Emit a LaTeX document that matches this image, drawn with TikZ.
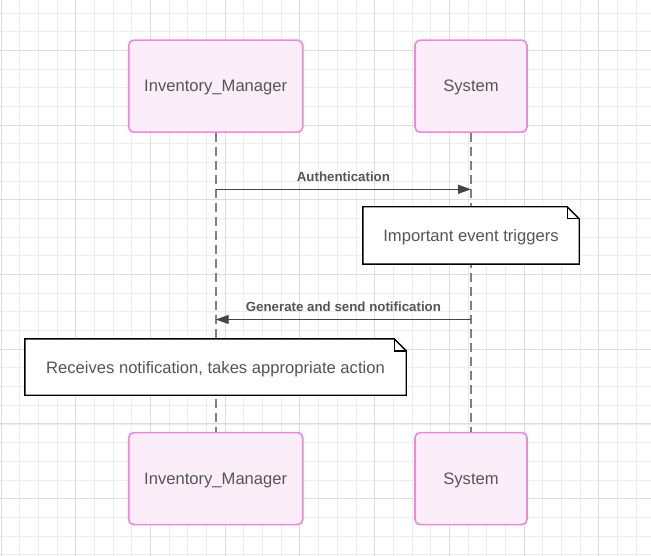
\documentclass[tikz,border=0pt]{standalone}
\usepackage{fontspec}
\setmainfont{Liberation Sans}
\usetikzlibrary{arrows.meta}
\definecolor{gridminor}{HTML}{EDEDED}
\definecolor{gridmajor}{HTML}{DCDCDC}
\definecolor{actorfill}{HTML}{FCEEF9}
\definecolor{actorline}{HTML}{EE88DD}
\definecolor{txtgray}{HTML}{555555}
\definecolor{lifegray}{HTML}{808080}
\definecolor{msggray}{HTML}{444444}
\tikzset{
  actor/.style={rectangle, rounded corners=5pt, draw=actorline, line width=1.6pt, fill=actorfill,
    text=txtgray, font=\fontsize{16.6}{20}\selectfont, minimum height=92pt, inner sep=0pt, text depth=0pt},
  lifeline/.style={draw=lifegray, line width=1.6pt, dash pattern=on 9pt off 5pt},
  notebox/.style={rectangle, fill=white, draw=none, inner sep=0pt, text=txtgray,
    font=\fontsize{16.6}{20}\selectfont, text depth=0pt},
  noteline/.style={draw=black, line width=1.4pt, line join=miter},
  msg/.style={draw=msggray, line width=1.1pt, -{Triangle[length=13pt,width=9pt]}},
  msglabel/.style={text=txtgray, font=\fontsize{13.3}{16}\selectfont\bfseries, inner sep=0pt}
}
\begin{document}
\begin{tikzpicture}[x=1pt,y=-1pt]
\useasboundingbox (0,0) rectangle (651,556);
\fill[white] (0,0) rectangle (651,556);
% grid
\foreach \k in {0,...,34}{\draw[gridminor, line width=0.8pt] ({1+18.68*\k},0) -- ({1+18.68*\k},556);}
\foreach \k in {0,...,29}{\draw[gridminor, line width=0.8pt] (0,{12.94+18.68*\k}) -- (651,{12.94+18.68*\k});}
\foreach \k in {0,...,8}{\draw[gridmajor, line width=0.9pt] ({1+74.72*\k},0) -- ({1+74.72*\k},556);}
\foreach \k in {0,...,6}{\draw[gridmajor, line width=0.9pt] (0,{50.3+74.72*\k}) -- (651,{50.3+74.72*\k});}
% actors
\node[actor, minimum width=174pt] (imTop) at (215.7,86.2) {Inventory\_Manager};
\node[actor, minimum width=112pt] (sysTop) at (471,86.2) {System};
\node[actor, minimum width=174pt] (imBot) at (215.7,478.6) {Inventory\_Manager};
\node[actor, minimum width=112pt] (sysBot) at (471,478.6) {System};
% lifelines
\draw[lifeline] (imTop.south) -- (imBot.north);
\draw[lifeline] (sysTop.south) -- (sysBot.north);
% message 1
\draw[msg] (imTop.south |- 0,189.3) -- (sysTop.south |- 0,189.3);
\node[msglabel] (l1) at (343.4,176.5) {Authentication};
% note 1
\node[notebox, minimum width=216pt, minimum height=57pt] (n1) at (471,235.5) {Important event triggers};
\draw[noteline] (n1.south west) -- (n1.north west) -- ([xshift=-12pt]n1.north east) -- ([yshift=-12pt]n1.north east) -- (n1.south east) -- cycle;
\draw[noteline] ([xshift=-12pt]n1.north east) -- ([xshift=-12pt,yshift=-12pt]n1.north east) -- ([yshift=-12pt]n1.north east);
% message 2
\draw[msg] (sysTop.south |- 0,319.5) -- (imTop.south |- 0,319.5);
\node[msglabel] (l2) at (343.4,306.3) {Generate and send notification};
% note 2
\node[notebox, minimum width=381pt, minimum height=56pt] (n2) at (215.5,367) {Receives notification, takes appropriate action};
\draw[noteline] (n2.south west) -- (n2.north west) -- ([xshift=-12pt]n2.north east) -- ([yshift=-12pt]n2.north east) -- (n2.south east) -- cycle;
\draw[noteline] ([xshift=-12pt]n2.north east) -- ([xshift=-12pt,yshift=-12pt]n2.north east) -- ([yshift=-12pt]n2.north east);
\end{tikzpicture}
\end{document}
